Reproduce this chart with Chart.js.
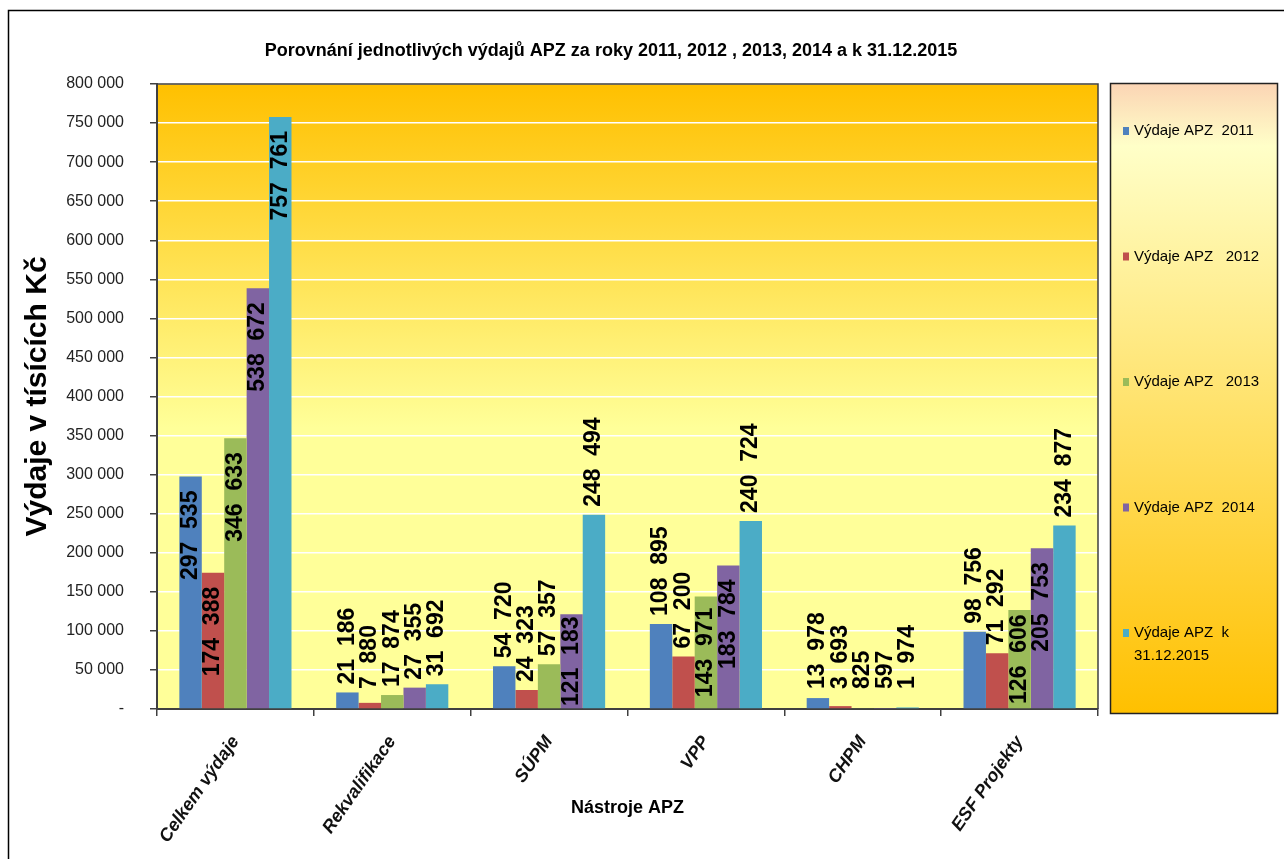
<!DOCTYPE html>
<html>
<head>
<meta charset="utf-8">
<script src="https://cdn.jsdelivr.net/npm/chart.js@4.4.0/dist/chart.umd.min.js"></script>
<style>
  html, body { margin: 0; padding: 0; background: #fff; }
  canvas { display: block; }
</style>
</head>
<body>
<canvas id="chart" width="1284" height="859"></canvas>
<script>
// data (thousands of CZK)
const categories = ['Celkem výdaje', 'Rekvalifikace', 'SÚPM', 'VPP', 'CHPM', 'ESF Projekty'];
const seriesNames = ['Výdaje APZ  2011', 'Výdaje APZ   2012', 'Výdaje APZ   2013', 'Výdaje APZ  2014', 'Výdaje APZ  k 31.12.2015'];
const spend2011 = [297535, 21186, 54720, 108895, 13978, 98756];
const spend2012 = [174388, 7880, 24323, 67200, 3693, 71292];
const spend2013 = [346633, 17874, 57357, 143971, 825, 126606];
const spend2014 = [538672, 27355, 121183, 183784, 597, 205753];
const spend2015 = [757761, 31692, 248494, 240724, 1974, 234877];
const yMax = 800000;
const yStep = 50000;

const seriesColors = ['#4F81BD', '#C0504D', '#9BBB59', '#8064A2', '#4BACC6'];
const titleText = 'Porovnání jednotlivých výdajů APZ za roky 2011, 2012 , 2013, 2014 a k 31.12.2015';

const ARIAL = "'Liberation Sans', Arial, sans-serif";

function fmt(v, sep) {
    return String(v).replace(/\B(?=(\d{3})+(?!\d))/g, sep);
}

// excel put some labels inside the bar end, the rest above it
function labelInside(v) {
    return (v > 115000 && v < 230000) || v > 280000;
}

const decor = {
    id: 'decor',
    beforeDraw(chart) {
        const {ctx, chartArea: a} = chart;
        ctx.save();
        ctx.fillStyle = '#fff';
        ctx.fillRect(0, 0, chart.width, chart.height);

        ctx.strokeStyle = '#000';
        ctx.lineWidth = 1.5;
        ctx.beginPath();
        ctx.moveTo(8.5, chart.height);
        ctx.lineTo(8.5, 10.5);
        ctx.lineTo(chart.width, 10.5);
        ctx.stroke();

        const g = ctx.createLinearGradient(0, a.top, 0, a.bottom);
        g.addColorStop(0, '#FFC000');
        g.addColorStop(0.55, '#FFFF99');
        g.addColorStop(1, '#FFFF99');
        ctx.fillStyle = g;
        ctx.fillRect(a.left, a.top, a.right - a.left, a.bottom - a.top);
        ctx.restore();
    },
    afterDatasetsDraw(chart) {
        const {ctx, chartArea: a} = chart;
        ctx.save();
        ctx.font = "bold 23px " + ARIAL;
        ctx.fillStyle = '#000';
        ctx.textBaseline = 'middle';
        chart.data.datasets.forEach((ds, di) => {
            const meta = chart.getDatasetMeta(di);
            meta.data.forEach((bar, i) => {
                const v = ds.data[i];
                const text = fmt(v, '  ');
                const len = ctx.measureText(text).width;
                const h = bar.base - bar.y;
                let y;
                ctx.save();
                if (labelInside(v)) {
                    const pad = Math.min(14, Math.max(2, (h - len) / 2));
                    y = bar.y + pad;
                    ctx.translate(bar.x, y);
                    ctx.rotate(-Math.PI / 2);
                    ctx.textAlign = 'right';
                } else {
                    y = Math.min(bar.y - 8, a.bottom - 20);
                    ctx.translate(bar.x, y);
                    ctx.rotate(-Math.PI / 2);
                    ctx.textAlign = 'left';
                }
                ctx.fillText(text, 0, 0);
                ctx.restore();
            });
        });
        ctx.restore();
    },
    afterDraw(chart) {
        const {ctx, chartArea: a} = chart;
        ctx.save();
        // plot area frame (top + right)
        ctx.strokeStyle = '#404040';
        ctx.lineWidth = 1.5;
        ctx.beginPath();
        ctx.moveTo(a.left, a.top);
        ctx.lineTo(a.right, a.top);
        ctx.lineTo(a.right, a.bottom);
        ctx.stroke();

        // title
        ctx.fillStyle = '#000';
        ctx.font = "bold 18px " + ARIAL;
        ctx.textAlign = 'center';
        ctx.textBaseline = 'middle';
        ctx.fillText(titleText, 611, 51);

        // legend box
        const bx = 1110, by = 83, bw = 167, bh = 630;
        const g = ctx.createLinearGradient(0, by, 0, by + bh);
        g.addColorStop(0, '#FBD4B4');
        g.addColorStop(0.1, '#FFFFC8');
        g.addColorStop(1, '#FFC000');
        ctx.fillStyle = g;
        ctx.fillRect(bx, by, bw, bh);
        ctx.strokeStyle = '#222';
        ctx.lineWidth = 1.5;
        ctx.strokeRect(bx + 0.5, by + 0.5, bw, bh);

        ctx.font = "15px " + ARIAL;
        ctx.textAlign = 'left';
        chart.data.datasets.forEach((ds, i) => {
            const y0 = 131 + i * 125.5;
            ctx.fillStyle = ds.backgroundColor;
            ctx.fillRect(1123, y0 - 4, 6, 8);
            ctx.fillStyle = '#000';
            // simple word wrap
            const parts = ds.label.split(/(\s+)/);
            const lines = [];
            let cur = '';
            parts.forEach(p => {
                if (cur && !/^\s+$/.test(p) && ctx.measureText(cur + p).width > 132) {
                    lines.push(cur.trimEnd());
                    cur = p;
                } else {
                    cur += p;
                }
            });
            lines.push(cur);
            lines.forEach((ln, k) => ctx.fillText(ln, 1134, y0 + k * 23));
        });
        ctx.restore();
    }
};

const datasets = [spend2011, spend2012, spend2013, spend2014, spend2015].map((d, i) => ({
    label: seriesNames[i],
    data: d,
    backgroundColor: seriesColors[i],
    borderWidth: 0
}));

new Chart(document.getElementById('chart'), {
    type: 'bar',
    data: {labels: categories, datasets: datasets},
    options: {
        responsive: false,
        animation: false,
        devicePixelRatio: 1,
        layout: {padding: {top: 84, right: 186, left: 0, bottom: 0}},
        datasets: {bar: {categoryPercentage: 0.715, barPercentage: 1}},
        plugins: {
            legend: {display: false},
            title: {display: false},
            tooltip: {enabled: false}
        },
        scales: {
            x: {
                grid: {offset: true, drawOnChartArea: false, drawTicks: true, tickLength: 7, color: '#404040', lineWidth: 1.5},
                border: {color: '#404040', width: 2},
                ticks: {
                    autoSkip: false, maxRotation: 55, minRotation: 55, padding: 16, color: '#111',
                    font: {family: ARIAL, size: 18, weight: 'bold', style: 'italic'}
                },
                title: {
                    display: true, text: 'Nástroje APZ', color: '#000',
                    font: {family: ARIAL, size: 18, weight: 'bold'}, padding: {bottom: 40}
                },
                afterFit(s) { s.height = 150; }
            },
            y: {
                min: 0,
                max: yMax,
                ticks: {
                    stepSize: yStep, padding: 26, color: '#222',
                    font: {family: ARIAL, size: 16},
                    callback: v => v === 0 ? '-' : fmt(v, ' ')
                },
                grid: {color: '#fff', lineWidth: 1.5, tickColor: '#404040', tickLength: 7},
                border: {color: '#404040', width: 2},
                title: {
                    display: true, text: 'Výdaje v tísících Kč', color: '#000',
                    font: {family: ARIAL, size: 30, weight: 'bold'}, padding: {top: 20}
                },
                afterFit(s) { s.width = 157; }
            }
        }
    },
    plugins: [decor]
});
</script>
</body>
</html>
